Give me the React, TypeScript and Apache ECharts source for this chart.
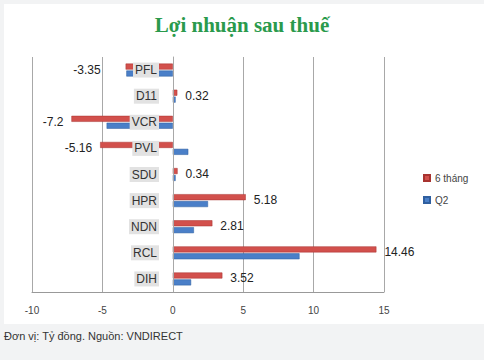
import React, { useEffect, useRef } from "react";
import * as echarts from "echarts";

const categories = ["PFL", "D11", "VCR", "PVL", "SDU", "HPR", "NDN", "RCL", "DIH"];
const sixMonths = [-3.35, 0.32, -7.2, -5.16, 0.34, 5.18, 2.81, 14.46, 3.52];
const q2 = [-3.3, 0.2, -4.7, 1.1, 0.2, 2.5, 1.5, 9.0, 1.3];
const seriesNames = ["6 tháng", "Q2"];
const title = "Lợi nhuận sau thuế";
const footer = "Đơn vị: Tỷ đồng. Nguồn: VNDIRECT";

export default function App() {
  const ref = useRef<HTMLDivElement>(null);
  useEffect(() => {
    if (!ref.current) return;
    const chart = echarts.init(ref.current, null, { renderer: "svg" });
    chart.setOption({
      animation: false,
      backgroundColor: "#f2f3f4",
      title: {
        text: title,
        left: "center",
        top: 9,
        textStyle: {
          fontFamily: "Liberation Serif",
          fontWeight: "bold",
          fontSize: 21,
          color: "#2a9a4c",
        },
      },
      graphic: [
        {
          type: "rect",
          z: -10,
          silent: true,
          shape: { x: 4, y: 4, width: 480, height: 320 },
          style: { fill: "#ffffff" },
        },
        {
          type: "text",
          left: 4,
          top: 330,
          style: {
            text: footer,
            font: "11px 'Liberation Sans', Arial, sans-serif",
            fill: "#333333",
          },
        },
      ],
      legend: {
        orient: "vertical",
        left: 418,
        top: 168,
        itemWidth: 6,
        itemHeight: 6,
        itemGap: 12,
        icon: "rect",
        textStyle: { fontSize: 10, color: "#444", fontFamily: "Liberation Sans" },
        data: seriesNames,
      },
      grid: { left: 32, right: 100, top: 57, bottom: 68, containLabel: false, outerBoundsMode: "none" },
      xAxis: {
        type: "value",
        min: -10,
        max: 15,
        interval: 5,
        axisLine: { show: true, onZero: false, lineStyle: { color: "#999" } },
        axisTick: { show: false },
        axisLabel: { fontSize: 10, color: "#444", margin: 13, fontFamily: "Liberation Sans" },
        splitLine: { show: true, lineStyle: { color: "#a8a8a8", width: 1 } },
      },
      yAxis: {
        type: "category",
        data: categories,
        inverse: true,
        offset: -141,
        z: 10,
        axisLine: { show: true, onZero: false, lineStyle: { color: "#a8a8a8" } },
        axisTick: { show: false },
        axisLabel: {
          fontSize: 12,
          color: "#333",
          margin: 14,
          backgroundColor: "#e2e2e2",
          padding: [2, 2, 1, 2],
          fontFamily: "Liberation Sans",
        },
      },
      series: [
        {
          name: seriesNames[0],
          type: "bar",
          barWidth: 6,
          barGap: "15%",
          itemStyle: { color: "#d2504c", borderColor: "#a83330", borderWidth: 0.5 },
          data: sixMonths.map((v) => ({
            value: v,
            label: {
              show: true,
              position: v < 0 ? "left" : "right",
              distance: v < 0 && v > -4 ? 25 : 8,
              offset: [0, 3],
              fontSize: 12,
              color: "#222",
              fontFamily: "Liberation Sans",
            },
          })),
        },
        {
          name: seriesNames[1],
          type: "bar",
          barWidth: 6,
          itemStyle: { color: "#4a7fc8", borderColor: "#2f5f9f", borderWidth: 0.5 },
          data: q2,
        },
      ],
    });
    return () => chart.dispose();
  }, []);
  return (
    <div
      ref={ref}
      style={{ position: "fixed", left: 0, top: 0, width: 484, height: 360 }}
    />
  );
}
